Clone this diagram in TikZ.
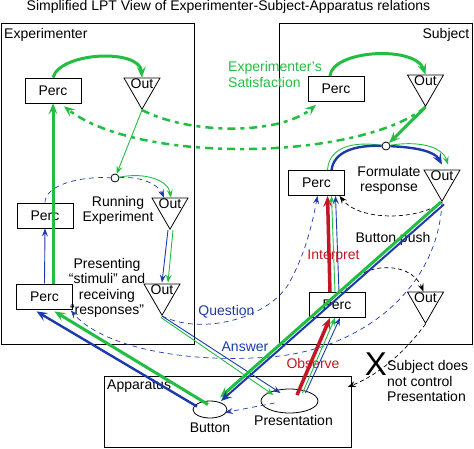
\documentclass[tikz,border=0pt]{standalone}
\usepackage{fontspec}
\setmainfont{Liberation Sans}
\usetikzlibrary{shapes.geometric,
                arrows.meta,
                positioning}
\definecolor{lptgreen}{RGB}{34,190,66}
\definecolor{lptblue}{RGB}{28,58,172}
\definecolor{lptred}{RGB}{192,24,36}
\tikzset{frame/.style =
   {rectangle,
    draw,
    line width=0.8pt,
    inner sep=0pt}}
\tikzset{perc/.style =
   {rectangle,
    draw,
    line width=0.8pt,
    minimum width=56pt,
    minimum height=25pt,
    inner sep=0pt}}
\tikzset{outbox/.style =
   {regular polygon,
    regular polygon sides=3,
    shape border rotate=180,
    draw,
    line width=0.8pt,
    minimum size=41.6pt,
    inner sep=0pt}}
\tikzset{junction/.style =
   {circle,
    draw,
    fill=white,
    line width=0.8pt,
    minimum size=8pt,
    inner sep=0pt}}
\tikzset{apparts/.style =
   {ellipse,
    draw,
    line width=0.8pt,
    inner sep=0pt}}
\tikzset{lbl/.style = {inner sep=0pt}}
\tikzset{bigtip/.style = {-{Stealth[length=11pt,width=9pt,inset=4.5pt]}}}
\tikzset{smalltip/.style = {-{Stealth[length=8pt,width=6pt,inset=3pt]}}}
\tikzset{gthick/.style = {draw=lptgreen, line width=3pt, bigtip}}
\tikzset{gthin/.style = {draw=lptgreen, line width=0.9pt, smalltip}}
\tikzset{bthick/.style = {draw=lptblue, line width=2.4pt, bigtip}}
\tikzset{bthin/.style = {draw=lptblue, line width=0.9pt, smalltip}}
\tikzset{rthick/.style = {draw=lptred, line width=3.5pt, bigtip}}
\tikzset{bdash/.style = {draw=lptblue, line width=0.7pt, dash pattern=on 5pt off 4pt, smalltip}}
\tikzset{kdash/.style = {draw=black, line width=0.7pt, dash pattern=on 4pt off 3pt, smalltip}}
\tikzset{gdash/.style = {draw=lptgreen, line width=2.5pt, dash pattern=on 8pt off 5pt on 4pt off 5pt, bigtip}}
\newcommand{\outtext}{\smash{\makebox[0pt]{Out}}}

\begin{document}
\begin{tikzpicture}[x=1pt, y=-1pt, font=\fontsize{14}{15.5}\selectfont]

    \useasboundingbox (0,0) rectangle (474,448);

    \node [lbl, anchor=base] (title) at (228.5,10.5)
    {Simplified LPT View of Experimenter-Subject-Apparatus relations};

    \node [frame, anchor=north west,
           minimum width=193pt, minimum height=321pt] (expbox) at (0.5,23) {};
    \node [frame, anchor=north west,
           minimum width=193pt, minimum height=321pt] (subbox) at (279,23) {};
    \node [frame, anchor=north west,
           minimum width=247pt, minimum height=71pt] (appbox) at (104,376) {};

    \node [lbl, anchor=base west] (explbl) at (4,38.5) {Experimenter};
    \node [lbl, anchor=base east] (sublbl) at (469.5,38.5) {Subject};
    \node [lbl, anchor=base west] (applbl) at (107,389) {Apparatus};

    \node [perc] (ep1) at (53,90.5) {Perc};
    \node [perc] (ep2) at (45,215.5) {Perc};
    \node [perc] (ep3) at (44.5,296.5) {Perc};
    \node [outbox] (eo1) at (142,88.4) {\outtext};
    \node [outbox] (eo2) at (170,208.4) {\outtext};
    \node [outbox] (eo3) at (162,294.4) {\outtext};

    \node [perc] (sp1) at (336,89) {Perc};
    \node [perc] (sp2) at (316.5,183) {Perc};
    \node [perc] (sp3) at (337,305) {Perc};
    \node [outbox] (so1) at (425.5,85.4) {\outtext};
    \node [outbox] (so2) at (442,180.4) {\outtext};
    \node [outbox] (so3) at (425.5,302.4) {\outtext};

    \node [junction] (ec) at (115,178) {};
    \node [junction] (sc) at (386,146) {};

    \node [apparts, minimum width=34pt, minimum height=17pt] (btn) at (210,409.5) {};
    \node [apparts, minimum width=57pt, minimum height=24pt] (pres) at (289.5,401) {};
    \node [lbl] (btntxt) at (210,427.5) {Button};
    \node [lbl] (prestxt) at (293.5,420) {Presentation};

    \node [lbl, align=center] (runlbl) at (118,210.5) {Running\\Experiment};
    \node [lbl, align=center] (stimlbl) at (107,288)
    {Presenting\\“stimuli” and\\receiving\\“responses”};
    \node [lbl, align=center] (formlbl) at (389,180.5) {Formulate\\response};
    \node [lbl] (pushlbl) at (393,239) {Button push};
    \node [lbl, text=lptred] (interplbl) at (333.5,256) {Interpret};
    \node [lbl, text=lptred] (obslbl) at (313,363) {Observe};
    \node [lbl, text=lptblue] (qlbl) at (226.5,312) {Question};
    \node [lbl, text=lptblue] (albl) at (245,347) {Answer};
    \node [lbl, text=lptgreen, align=left, anchor=west] (satlbl) at (228,74.5)
    {Experimenter's\\Satisfaction};
    \node [lbl, align=left, anchor=west] (nctllbl) at (387,381)
    {Subject does\\not control\\Presentation};
    \node [lbl, font=\fontsize{33}{33}\selectfont] (nomark) at (376,364) {X};

    \draw [gdash] (eo1.south) .. controls (190,135) and (280,135) .. ([shift={(-20,3)}]sp1.south);
    \draw [gdash] (so1.south) .. controls (360,160) and (140,165) .. ([shift={(11,3)}]ep1.south);

    \draw [gthick] (ep1.north) .. controls (60,52) and (140,48) .. (eo1.north);
    \draw [gthick] (ep3.north -| ep1.south) -- (ep1.south);
    \draw [bthin] (ep3.north) -- (ep2.south);
    \draw [gthin] (eo1.south) -- (ec);
    \draw [bdash, -] (ep2.north) .. controls (45,185) and (80,176) .. (ec);
    \draw [bdash] (ec) .. controls (140,176) and (158,184) .. ([shift={(-6,0)}]eo2.north);
    \draw [gthin] (ec) .. controls (145,172) and (168,180) .. ([shift={(1,0)}]eo2.north);
    \draw [bthin] ([shift={(-2,0)}]eo2.south) -- ([shift={(0,-1)}]eo3.north);
    \draw [gthin] ([shift={(3,0)}]eo2.south) -- ([shift={(6,-1)}]eo3.north);

    \draw [bthin] (eo3.south) -- ([shift={(-9,-8)}]pres.center);
    \draw [gthin] ([shift={(-1,1.5)}]eo3.south) -- ([shift={(-16,-6)}]pres.center);
    \draw [bdash] (eo3.south) .. controls (200,335) and (265,320) .. (288,285)
                  .. controls (305,255) and (312,225) .. ([shift={(1,0)}]sp2.south);
    \draw [bdash] (so2.south) .. controls (438,290) and (360,350) .. (270,357)
                  .. controls (180,364) and (100,345) .. ([shift={(-2,1)}]ep3.south east);
    \draw [bdash] ([shift={(-15,2)}]pres.center) -- ([shift={(15,3)}]btn.center);

    \draw [gthick] ([shift={(-6,0)}]sp1.north) .. controls (332,50) and (415,45) .. (so1.north);
    \draw [gthick] (so1.south) -- (sc);
    \draw [gthin, -] ([shift={(11,0)}]sp2.north) .. controls (329,147) and (353,141) .. (sc);
    \draw [bthick, -] ([shift={(15,0)}]sp2.north) .. controls (334,151) and (356,145) .. (sc);
    \draw [gthin] (sc) .. controls (415,141) and (442,145) .. ([shift={(6,-5)}]so2.north);
    \draw [bthick] (sc) .. controls (410,147) and (434,150) .. ([shift={(0,-5)}]so2.north);

    \draw [kdash] (so2.south) .. controls (420,220) and (360,222) .. ([shift={(23,0)}]sp2.south);
    \draw [kdash] ([shift={(8,0)}]sp3.north) .. controls (355,263) and (410,258) .. ([shift={(-2,0)}]so3.north);
    \draw [kdash] (so3.south) .. controls (410,345) and (385,372) .. ([shift={(-4,11)}]appbox.north east);

    \draw [rthick] ([shift={(7.5,-6)}]pres.center) -- ([shift={(-7,0)}]sp3.south);
    \draw [gthin] ([shift={(13,-8)}]pres.center) -- ([shift={(-2,0)}]sp3.south);
    \draw [bthin] ([shift={(16,-8)}]pres.center) -- ([shift={(3,0)}]sp3.south);
    \draw [rthick] ([shift={(-7,0)}]sp3.north) -- ([shift={(11,0)}]sp2.south);
    \draw [gthin] ([shift={(-2,0)}]sp3.north) -- ([shift={(15,0)}]sp2.south);
    \draw [bthin] ([shift={(2,0)}]sp3.north) -- ([shift={(19,0)}]sp2.south);

    \draw [gthick] ([shift={(-1,0)}]so2.south) -- (220,397.5);
    \draw [bthick, line width=2pt] ([shift={(2,2.3)}]so2.south) -- (221,401);
    \draw [bthick] ([shift={(-13,-3)}]btn.center) -- ([shift={(-8,2)}]ep3.south);
    \draw [gthick] ([shift={(-2,-5)}]btn.center) -- ([shift={(10,2)}]ep3.south);

\end{tikzpicture}
\end{document}
